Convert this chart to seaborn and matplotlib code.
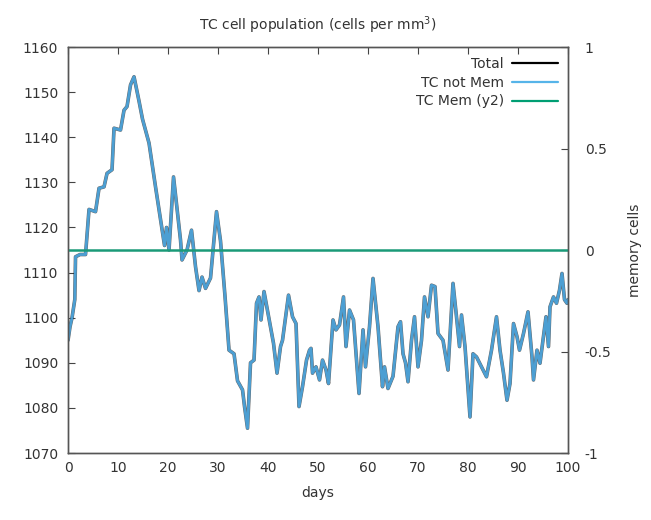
import matplotlib
matplotlib.use("Agg")
import matplotlib.pyplot as plt
from matplotlib.lines import Line2D
import seaborn as sns
import pandas as pd

sns.set_theme(style="white")
plt.rcParams['font.family'] = ['DejaVu Sans']

title = "TC cell population (cells per mm$^3$)"
days = [0.0, 0.4, 0.8, 1.35, 1.5, 2.4, 3.5, 4.2, 5.5, 6.2, 7.2, 7.8, 8.8, 9.2, 10.5,
        11.2, 11.8, 12.5, 13.2, 14.2, 14.9, 16.2, 17.5, 18.9, 19.3, 19.7, 20.2, 21.1,
        22.5, 22.8, 23.8, 24.7, 25.5, 26.2, 26.8, 27.5, 28.5, 29.7, 30.5, 31.4, 32.2,
        33.2, 33.9, 34.9, 35.3, 35.9, 36.5, 37.2, 37.7, 38.2, 38.6, 39.2, 40.0, 40.6,
        41.1, 41.8, 42.5, 42.9, 44.1, 44.9, 45.6, 46.2, 46.9, 47.7, 48.3, 48.6, 48.9,
        49.6, 50.3, 50.9, 51.6, 52.1, 53.0, 53.6, 54.3, 55.1, 55.6, 56.3, 57.1, 57.6,
        58.2, 59.0, 59.5, 60.3, 61.0, 62.0, 62.9, 63.3, 64.0, 65.0, 66.0, 66.5, 67.0,
        67.5, 68.0, 68.7, 69.3, 70.0, 70.7, 71.3, 72.0, 72.7, 73.4, 74.0, 75.0, 76.0,
        77.0, 77.7, 78.3, 78.7, 79.4, 80.4, 81.0, 81.7, 82.7, 83.7, 84.7, 85.7, 86.4,
        87.1, 87.8, 88.4, 89.1, 89.8, 90.3, 91.1, 92.0, 92.8, 93.1, 93.8, 94.4, 95.1,
        95.6, 96.1, 96.4, 97.1, 97.7, 98.3, 98.8, 99.3, 99.8, 100.0]
tc_not_mem = [1095, 1098, 1100, 1104, 1113.5, 1114, 1114, 1124, 1123.5, 1128.7, 1129,
              1132, 1132.8, 1142, 1141.6, 1146, 1146.8, 1151.6, 1153.4, 1148, 1144,
              1138.7, 1129, 1118.8, 1116, 1120, 1115, 1131.2, 1117.2, 1112.8, 1115,
              1119.4, 1111.3, 1106, 1109, 1106.5, 1108.8, 1123.5, 1117, 1104.7, 1092.8,
              1092, 1086, 1084, 1080.3, 1075.5, 1090, 1090.6, 1103.2, 1104.6, 1099.5,
              1105.8, 1101, 1097.5, 1094.3, 1087.7, 1093.6, 1095, 1105, 1100.2, 1098.7,
              1080.3, 1084.7, 1090.6, 1092.8, 1093.2, 1087.7, 1089.1, 1086.2, 1090.6,
              1088.4, 1085.4, 1099.5, 1097.3, 1098.4, 1104.6, 1093.6, 1101.7, 1099.5,
              1092, 1083.2, 1097.3, 1089.1, 1098, 1108.7, 1098, 1084.7, 1089.1, 1084.3,
              1087, 1098, 1099.1, 1092, 1090, 1085.8, 1095, 1100.2, 1089.1, 1095,
              1104.6, 1100.2, 1107.2, 1106.9, 1096.5, 1095, 1088.4, 1107.6, 1100.2,
              1093.6, 1100.6, 1093.6, 1078, 1092, 1091.3, 1089.1, 1086.9, 1092.8,
              1100.2, 1092.8, 1087.7, 1081.7, 1085.4, 1098.7, 1095.8, 1092.8, 1096.5,
              1101.3, 1091.3, 1086.2, 1092.8, 1089.9, 1095.8, 1100.2, 1093.6, 1102.4,
              1104.6, 1103.2, 1106.1, 1109.8, 1104, 1103.2, 1104]
total = tc_not_mem
mem_days = [0, 100]
mem_values = [0, 0]

x_ticks = [0, 10, 20, 30, 40, 50, 60, 70, 80, 90, 100]
y_ticks = [1070, 1080, 1090, 1100, 1110, 1120, 1130, 1140, 1150, 1160]
y2_ticks = [-1, -0.5, 0, 0.5, 1]
y2_labels = ["-1", "-0.5", "0", "0.5", "1"]

df = pd.DataFrame({"days": days, "total": total, "tc_not_mem": tc_not_mem})
df_mem = pd.DataFrame({"days": mem_days, "mem": mem_values})

fig = plt.figure(figsize=(6.51, 5.2), dpi=100)
ax = fig.add_axes([0.1045, 0.1288, 0.768, 0.7808])
ax2 = ax.twinx()

sns.lineplot(data=df, x="days", y="total", ax=ax, color="black", linewidth=2.6,
             alpha=0.6, legend=False)
sns.lineplot(data=df, x="days", y="tc_not_mem", ax=ax, color="#4aa6e0", linewidth=2.0,
             alpha=0.9, legend=False)
sns.lineplot(data=df_mem, x="days", y="mem", ax=ax2, color="#1a9a78", linewidth=1.8,
             legend=False)

ax.set_xlim(0, 100)
ax.set_ylim(1070, 1160)
ax2.set_ylim(-1, 1)
ax.set_xticks(x_ticks)
ax.set_yticks(y_ticks)
ax2.set_yticks(y2_ticks)
ax2.set_yticklabels(y2_labels)

text_color = "#333333"
for a in (ax, ax2):
    for s in a.spines.values():
        s.set_color("#555555")
        s.set_linewidth(1.0)
ax.tick_params(axis="both", direction="in", length=5, width=0.8, color="#444444",
               labelsize=10, labelcolor=text_color, top=True, pad=7)
ax.tick_params(axis="x", pad=6)
ax2.tick_params(axis="y", direction="in", length=5, width=0.8, color="#444444",
                labelsize=10, labelcolor=text_color, pad=12)

ax.set_xlabel("days", fontsize=10, color=text_color, labelpad=8)
ax.set_ylabel("")
ax2.set_ylabel("memory cells", fontsize=10, color=text_color, labelpad=12)
ax.set_title(title, fontsize=10, color=text_color, pad=12)

handles = [Line2D([], [], color="black", lw=1.6),
           Line2D([], [], color="#56b4e9", lw=1.6),
           Line2D([], [], color="#009e73", lw=1.6)]
leg = ax2.legend(handles, ["Total", "TC not Mem", "TC Mem (y2)"], loc="upper right",
                 frameon=False, markerfirst=False, fontsize=10, handlelength=3.3,
                 labelspacing=0.35, borderaxespad=0.3, handletextpad=0.6)
for t in leg.get_texts():
    t.set_color(text_color)

fig.savefig("out.png", dpi=100)
